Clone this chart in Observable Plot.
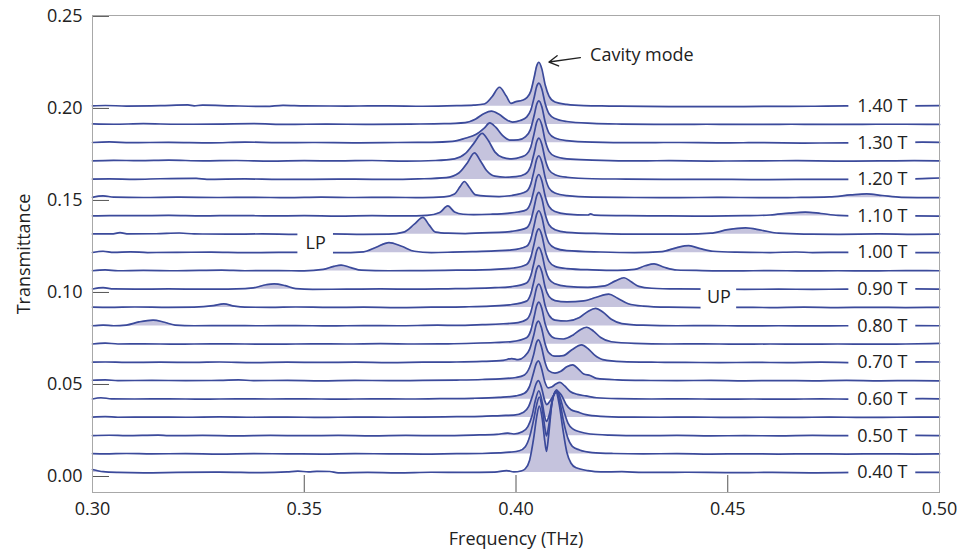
<!DOCTYPE html>
<html><head><meta charset="utf-8">
<script src="https://cdn.jsdelivr.net/npm/d3@7"></script>
<script src="https://cdn.jsdelivr.net/npm/@observablehq/plot@0.6"></script>
<style>body{margin:0;background:#fff}</style>
</head><body><div id="chart"></div>
<script>
// Magnetic fields (T) of each trace, bottom to top
const fields = ["0.40","0.45","0.50","0.55","0.60","0.65","0.70","0.75","0.80","0.85","0.90","0.95","1.00","1.05","1.10","1.15","1.20","1.25","1.30","1.35","1.40"];
// Vertical offset (baseline) of each trace
const offsets = [0.0022,0.0122,0.0221,0.0321,0.0420,0.0520,0.0619,0.0719,0.0818,0.0918,0.1017,0.1117,0.1216,0.1316,0.1415,0.1515,0.1614,0.1714,0.1813,0.1913,0.2012];
const xTicks = [0.30,0.35,0.40,0.45,0.50];
const yTicks = [0.00,0.05,0.10,0.15,0.20,0.25];
const labelFields = ["0.40 T","0.50 T","0.60 T","0.70 T","0.80 T","0.90 T","1.00 T","1.10 T","1.20 T","1.30 T","1.40 T"];
const labelIndex = [0,2,4,6,8,10,12,14,16,18,20];
const labelFreq = 0.4865;

// Each trace: [frequency (THz), transmittance above its baseline]
const t040 = [[0.300,0.0016],[0.3025,0.0004],[0.306,0],[0.312,-0.0002],[0.320,0],[0.330,0.0002],[0.340,-0.0001],[0.346,0.0003],[0.3485,0.0007],[0.351,0.0003],[0.353,0.0006],[0.356,0.0005],[0.358,-0.0002],[0.365,0],[0.372,-0.0002],[0.380,0.0001],[0.388,0],[0.395,0.0002],[0.3978,0.0010],[0.3995,0.0003],[0.4012,0.0008],[0.4022,0.0020],[0.4032,0.0065],[0.4042,0.0190],[0.4049,0.0305],[0.4055,0.0360],[0.4062,0.0290],[0.4068,0.0170],[0.4072,0.0115],[0.4077,0.0200],[0.4085,0.0380],[0.4094,0.0440],[0.4102,0.0370],[0.4111,0.0230],[0.4120,0.0110],[0.4130,0.0050],[0.4142,0.0025],[0.417,0.0010],[0.420,0.0003],[0.425,0.0004],[0.430,0],[0.440,0.0001],[0.450,-0.0001],[0.460,0],[0.470,-0.0002],[0.480,0],[0.490,0.0001],[0.500,0]];
const t045 = [[0.300,0.0002],[0.303,0.0001],[0.308,0.0003],[0.314,0.0001],[0.322,0.0002],[0.330,0],[0.338,0.0002],[0.346,0.0001],[0.354,0],[0.362,0.0002],[0.370,0.0001],[0.378,0],[0.386,0.0002],[0.392,0.0003],[0.3960,0.0006],[0.3985,0.0010],[0.4008,0.0018],[0.4022,0.0040],[0.4033,0.0100],[0.4042,0.0190],[0.4049,0.0270],[0.4055,0.0310],[0.4062,0.0245],[0.4068,0.0145],[0.4072,0.0098],[0.4077,0.0150],[0.4086,0.0290],[0.4095,0.0340],[0.4103,0.0290],[0.4112,0.0180],[0.4122,0.0090],[0.4133,0.0042],[0.4150,0.0022],[0.418,0.0008],[0.423,0.0003],[0.430,0.0001],[0.438,0.0002],[0.446,0],[0.454,0.0001],[0.462,0],[0.470,0.0001],[0.478,0],[0.486,0.0001],[0.494,0],[0.500,0.0001]];
const t050 = [[0.300,0.0001],[0.304,0.0003],[0.308,0.0001],[0.3155,0.0004],[0.318,0.0001],[0.326,0.0002],[0.334,0],[0.342,0.0002],[0.350,0.0001],[0.358,0.0002],[0.366,0],[0.374,0.0002],[0.382,0.0001],[0.390,0.0004],[0.3955,0.0008],[0.3980,0.0015],[0.3995,0.0010],[0.4015,0.0022],[0.4028,0.0050],[0.4038,0.0110],[0.4046,0.0195],[0.4054,0.0245],[0.4062,0.0180],[0.4068,0.0102],[0.4072,0.0078],[0.4078,0.0110],[0.4088,0.0215],[0.4096,0.0250],[0.4104,0.0210],[0.4113,0.0135],[0.4123,0.0068],[0.4135,0.0036],[0.4150,0.0022],[0.4175,0.0010],[0.422,0.0004],[0.430,0.0001],[0.438,0.0002],[0.446,0],[0.454,0.0001],[0.462,0],[0.470,0.0002],[0.478,0.0001],[0.486,0],[0.494,0.0002],[0.500,0.0001]];
const t055 = [[0.300,0.0002],[0.303,0.0004],[0.306,0.0001],[0.314,0.0002],[0.322,0.0001],[0.330,0.0003],[0.338,0.0001],[0.346,0.0002],[0.354,0],[0.362,0.0002],[0.370,0.0001],[0.378,0.0002],[0.386,0.0004],[0.392,0.0006],[0.3965,0.0010],[0.3995,0.0012],[0.4018,0.0028],[0.4030,0.0060],[0.4040,0.0125],[0.4047,0.0180],[0.4053,0.0200],[0.4061,0.0155],[0.4068,0.0090],[0.4073,0.0070],[0.4080,0.0088],[0.4090,0.0125],[0.4098,0.0142],[0.4107,0.0122],[0.4118,0.0072],[0.4130,0.0042],[0.4145,0.0030],[0.4165,0.0015],[0.420,0.0006],[0.426,0.0002],[0.434,0.0001],[0.442,0.0002],[0.450,0],[0.458,0.0001],[0.466,0],[0.474,0.0002],[0.482,0],[0.490,0.0001],[0.500,0.0002]];
const t060 = [[0.300,0.0001],[0.302,0.0008],[0.3045,0.0002],[0.310,0.0001],[0.318,0.0002],[0.326,0],[0.334,0.0002],[0.342,0.0001],[0.350,0.0002],[0.358,0],[0.366,0.0002],[0.374,0.0001],[0.382,0.0003],[0.390,0.0005],[0.3960,0.0010],[0.4000,0.0018],[0.4020,0.0032],[0.4032,0.0070],[0.4041,0.0140],[0.4048,0.0195],[0.4053,0.0208],[0.4060,0.0170],[0.4068,0.0095],[0.4076,0.0062],[0.4084,0.0066],[0.4094,0.0082],[0.4104,0.0091],[0.4115,0.0072],[0.4128,0.0042],[0.4145,0.0026],[0.4165,0.0018],[0.4190,0.0008],[0.424,0.0003],[0.432,0.0001],[0.440,0.0002],[0.448,0],[0.456,0.0001],[0.464,0],[0.472,0.0002],[0.480,0],[0.488,0.0001],[0.496,0.0003],[0.500,0.0002]];
const t065 = [[0.300,0.0003],[0.303,0.0005],[0.306,0.0001],[0.314,0.0002],[0.322,0.0001],[0.330,0.0002],[0.3345,0.0005],[0.338,0.0001],[0.346,0.0002],[0.354,0],[0.362,0.0002],[0.370,0.0001],[0.378,0.0002],[0.386,0.0004],[0.392,0.0007],[0.3970,0.0012],[0.4000,0.0018],[0.4020,0.0032],[0.4032,0.0072],[0.4042,0.0145],[0.4048,0.0205],[0.4053,0.0222],[0.4060,0.0185],[0.4068,0.0105],[0.4077,0.0055],[0.4092,0.0042],[0.4106,0.0052],[0.4120,0.0076],[0.4134,0.0087],[0.4148,0.0062],[0.4160,0.0037],[0.4175,0.0029],[0.4190,0.0013],[0.424,0.0005],[0.430,0.0002],[0.438,0.0001],[0.446,0.0002],[0.454,0],[0.462,0.0001],[0.470,0],[0.478,0.0002],[0.486,0],[0.494,0.0001],[0.500,0]];
const t070 = [[0.300,0.0002],[0.303,0.0003],[0.308,0.0001],[0.316,0.0002],[0.324,0.0001],[0.330,0.0003],[0.338,0],[0.346,0.0002],[0.354,0.0001],[0.362,0.0002],[0.370,0],[0.378,0.0002],[0.386,0.0003],[0.392,0.0006],[0.3970,0.0012],[0.3990,0.0022],[0.4005,0.0016],[0.4020,0.0033],[0.4032,0.0072],[0.4042,0.0150],[0.4048,0.0208],[0.4053,0.0225],[0.4060,0.0190],[0.4068,0.0108],[0.4077,0.0055],[0.4092,0.0035],[0.4112,0.0038],[0.4132,0.0070],[0.4155,0.0096],[0.4170,0.0076],[0.4185,0.0042],[0.4205,0.0016],[0.425,0.0005],[0.432,0.0002],[0.440,0.0001],[0.448,0],[0.456,0.0001],[0.464,0],[0.472,0.0002],[0.480,0],[0.488,0.0001],[0.496,0.0004],[0.500,0.0003]];
const t075 = [[0.300,0.0001],[0.303,0.0006],[0.306,0.0001],[0.312,0.0002],[0.320,0],[0.328,0.0002],[0.336,0.0001],[0.344,0],[0.352,0.0002],[0.360,0.0001],[0.368,0.0003],[0.376,0.0001],[0.384,0.0002],[0.390,0.0005],[0.395,0.0009],[0.3990,0.0014],[0.4025,0.0035],[0.4035,0.0075],[0.4043,0.0150],[0.4049,0.0210],[0.4054,0.0228],[0.4061,0.0194],[0.4069,0.0109],[0.4078,0.0058],[0.4092,0.0032],[0.4112,0.0028],[0.4135,0.0050],[0.4152,0.0079],[0.4167,0.0092],[0.4183,0.0071],[0.4200,0.0036],[0.4225,0.0013],[0.428,0.0004],[0.436,0.0001],[0.444,0.0002],[0.452,0],[0.460,0.0001],[0.468,0],[0.476,0.0001],[0.484,0],[0.492,0.0001],[0.500,0.0004]];
const t080 = [[0.300,0.0001],[0.3025,0.0005],[0.305,0.0001],[0.3080,0.0005],[0.3110,0.0022],[0.3143,0.0032],[0.3170,0.0020],[0.3195,0.0005],[0.324,0.0001],[0.332,0.0002],[0.340,0.0001],[0.348,0.0002],[0.356,0],[0.364,0.0002],[0.372,0.0001],[0.3815,0.0004],[0.386,0.0003],[0.392,0.0007],[0.397,0.0012],[0.4005,0.0018],[0.4025,0.0035],[0.4035,0.0075],[0.4043,0.0150],[0.4049,0.0210],[0.4054,0.0228],[0.4061,0.0194],[0.4069,0.0109],[0.4078,0.0058],[0.4092,0.0032],[0.4120,0.0027],[0.4150,0.0046],[0.4170,0.0079],[0.4188,0.0095],[0.4205,0.0076],[0.4225,0.0036],[0.4250,0.0013],[0.430,0.0004],[0.438,0.0001],[0.446,0.0002],[0.454,0],[0.462,0.0001],[0.470,0],[0.478,0.0001],[0.486,0],[0.494,0.0002],[0.500,0.0001]];
const t085 = [[0.300,0.0002],[0.304,0.0001],[0.310,0.0003],[0.318,0.0001],[0.324,0.0002],[0.3285,0.0010],[0.3310,0.0020],[0.3335,0.0008],[0.3360,0.0002],[0.342,0.0001],[0.348,0.0003],[0.356,0.0001],[0.364,0.0002],[0.372,0],[0.380,0.0002],[0.388,0.0004],[0.394,0.0008],[0.3985,0.0015],[0.4025,0.0035],[0.4035,0.0075],[0.4043,0.0150],[0.4049,0.0210],[0.4054,0.0228],[0.4061,0.0194],[0.4069,0.0109],[0.4078,0.0060],[0.4092,0.0038],[0.4120,0.0031],[0.4160,0.0036],[0.4190,0.0056],[0.4219,0.0073],[0.4240,0.0051],[0.4265,0.0021],[0.4300,0.0008],[0.436,0.0002],[0.444,0],[0.452,0.0001],[0.460,0],[0.468,0.0002],[0.476,0],[0.484,0.0001],[0.492,0],[0.500,0.0001]];
const t090 = [[0.300,0.0002],[0.3025,0.0009],[0.305,0.0002],[0.310,0.0001],[0.318,0.0002],[0.326,0.0001],[0.334,0.0002],[0.3380,0.0008],[0.3410,0.0025],[0.3429,0.0030],[0.3455,0.0020],[0.3480,0.0004],[0.352,0],[0.360,0.0001],[0.368,0.0002],[0.376,0.0001],[0.384,0.0003],[0.390,0.0005],[0.395,0.0009],[0.3990,0.0015],[0.4025,0.0035],[0.4035,0.0075],[0.4043,0.0150],[0.4049,0.0210],[0.4054,0.0228],[0.4061,0.0194],[0.4069,0.0110],[0.4078,0.0056],[0.4092,0.0030],[0.4120,0.0016],[0.4170,0.0011],[0.4210,0.0019],[0.4235,0.0046],[0.4255,0.0063],[0.4272,0.0041],[0.4290,0.0016],[0.4320,0.0006],[0.438,0.0002],[0.446,0.0001],[0.454,0],[0.462,0.0001],[0.470,0],[0.478,0.0001],[0.486,0],[0.494,0.0002],[0.500,0.0001]];
const t095 = [[0.300,0.0001],[0.303,0.0006],[0.306,0.0001],[0.312,0.0003],[0.320,0.0001],[0.3305,0.0004],[0.336,0.0001],[0.344,0.0002],[0.350,0],[0.3545,0.0008],[0.3570,0.0025],[0.3587,0.0032],[0.3610,0.0018],[0.3635,0.0004],[0.370,0.0001],[0.378,0.0002],[0.386,0.0004],[0.392,0.0006],[0.396,0.0010],[0.3995,0.0016],[0.4025,0.0035],[0.4035,0.0075],[0.4043,0.0150],[0.4049,0.0210],[0.4054,0.0228],[0.4061,0.0194],[0.4069,0.0109],[0.4078,0.0052],[0.4092,0.0025],[0.412,0.0013],[0.418,0.0006],[0.424,0.0003],[0.4280,0.0008],[0.4305,0.0028],[0.4326,0.0038],[0.4350,0.0020],[0.4380,0.0005],[0.444,0.0002],[0.452,0],[0.460,0.0002],[0.468,0],[0.476,0.0001],[0.484,0],[0.492,0.0002],[0.500,0.0001]];
const t100 = [[0.300,0.0001],[0.3025,0.0008],[0.305,0.0002],[0.309,0.0005],[0.313,0.0001],[0.320,0.0002],[0.328,0.0003],[0.336,0],[0.344,0.0002],[0.352,0.0001],[0.358,0],[0.3640,0.0005],[0.3670,0.0030],[0.3700,0.0055],[0.3730,0.0035],[0.3760,0.0008],[0.3800,0.0001],[0.3850,0.0003],[0.3900,0.0006],[0.3950,0.0010],[0.3990,0.0015],[0.4025,0.0035],[0.4035,0.0075],[0.4043,0.0150],[0.4049,0.0210],[0.4054,0.0228],[0.4061,0.0194],[0.4069,0.0109],[0.4078,0.0052],[0.4092,0.0025],[0.412,0.0011],[0.420,0.0004],[0.428,0.0001],[0.4345,0.0006],[0.4380,0.0028],[0.4408,0.0038],[0.4435,0.0022],[0.4465,0.0008],[0.452,0.0003],[0.460,0.0001],[0.466,0.0004],[0.470,0.0001],[0.478,0.0002],[0.486,0],[0.494,0.0001],[0.500,0]];
const t105 = [[0.300,0.0002],[0.3045,0.0002],[0.3065,0.0009],[0.3085,0.0002],[0.315,0.0003],[0.3205,0.0007],[0.324,0.0002],[0.332,0.0001],[0.340,0.0002],[0.348,0],[0.356,0.0002],[0.364,0],[0.370,0.0001],[0.3735,0.0012],[0.3760,0.0055],[0.3780,0.0092],[0.3795,0.0050],[0.3810,0.0012],[0.3840,0.0006],[0.3880,0.0004],[0.3920,0.0008],[0.3960,0.0010],[0.3990,0.0016],[0.4025,0.0035],[0.4035,0.0075],[0.4043,0.0150],[0.4049,0.0210],[0.4054,0.0228],[0.4061,0.0194],[0.4069,0.0109],[0.4078,0.0052],[0.4092,0.0025],[0.412,0.0011],[0.420,0.0004],[0.430,0.0001],[0.440,0.0001],[0.446,0.0006],[0.4500,0.0025],[0.4542,0.0035],[0.4580,0.0022],[0.4620,0.0006],[0.468,0.0001],[0.476,0],[0.486,0.0002],[0.494,0],[0.500,0.0001]];
const t110 = [[0.300,0.0001],[0.304,0.0003],[0.310,0.0002],[0.318,0.0004],[0.326,0.0001],[0.334,0.0003],[0.342,0.0001],[0.350,0.0002],[0.358,0],[0.366,0.0002],[0.374,0.0001],[0.379,0.0004],[0.3820,0.0020],[0.3839,0.0055],[0.3855,0.0022],[0.3875,0.0010],[0.3900,0.0008],[0.3940,0.0010],[0.3980,0.0015],[0.4005,0.0022],[0.4025,0.0035],[0.4035,0.0075],[0.4043,0.0148],[0.4049,0.0208],[0.4054,0.0226],[0.4061,0.0192],[0.4069,0.0108],[0.4078,0.0052],[0.4092,0.0025],[0.412,0.0011],[0.4170,0.0006],[0.4176,0.0012],[0.4185,0.0005],[0.426,0.0002],[0.436,0.0001],[0.446,0],[0.454,0.0002],[0.460,0.0006],[0.4645,0.0016],[0.4683,0.0022],[0.472,0.0014],[0.476,0.0004],[0.482,0],[0.490,0.0001],[0.500,0]];
const t115 = [[0.300,0.0002],[0.3025,0.0010],[0.305,0.0003],[0.312,0.0001],[0.320,0.0003],[0.330,0.0001],[0.338,0.0002],[0.346,0],[0.354,0.0003],[0.362,0.0001],[0.370,0.0002],[0.378,0],[0.3830,0.0004],[0.3855,0.0020],[0.3868,0.0060],[0.3878,0.0088],[0.3890,0.0055],[0.3905,0.0015],[0.3930,0.0008],[0.3960,0.0006],[0.3990,0.0012],[0.4025,0.0035],[0.4035,0.0075],[0.4043,0.0150],[0.4049,0.0210],[0.4054,0.0228],[0.4061,0.0194],[0.4069,0.0109],[0.4078,0.0052],[0.4092,0.0025],[0.412,0.0011],[0.418,0.0003],[0.428,0.0001],[0.438,0],[0.448,0.0002],[0.458,0],[0.466,0.0001],[0.474,0.0004],[0.4790,0.0015],[0.4828,0.0021],[0.4865,0.0012],[0.491,0.0002],[0.500,0]];
const t120 = [[0.300,0.0002],[0.304,0.0003],[0.310,0.0001],[0.316,0.0004],[0.3245,0.0006],[0.327,0.0001],[0.336,0.0003],[0.344,0],[0.352,0.0001],[0.362,0.0002],[0.370,0],[0.377,0.0003],[0.3835,0.0010],[0.3865,0.0035],[0.3885,0.0090],[0.3902,0.0145],[0.3915,0.0105],[0.3930,0.0050],[0.3950,0.0018],[0.3975,0.0012],[0.4000,0.0015],[0.4022,0.0030],[0.4034,0.0068],[0.4043,0.0145],[0.4049,0.0206],[0.4054,0.0225],[0.4061,0.0192],[0.4069,0.0108],[0.4078,0.0052],[0.4092,0.0026],[0.412,0.0012],[0.418,0.0004],[0.426,0.0002],[0.436,0],[0.446,0.0001],[0.456,-0.0001],[0.466,0],[0.474,0.0001],[0.482,0],[0.490,0.0001],[0.496,0.0005],[0.500,0.0008]];
const t125 = [[0.300,0.0001],[0.305,0.0004],[0.311,0.0002],[0.318,0.0005],[0.326,0.0001],[0.334,0.0003],[0.342,0],[0.350,0.0002],[0.358,0.0001],[0.366,0.0003],[0.374,0],[0.381,0.0003],[0.3855,0.0012],[0.3880,0.0040],[0.3900,0.0095],[0.3920,0.0150],[0.3935,0.0110],[0.3950,0.0050],[0.3968,0.0020],[0.3990,0.0012],[0.4012,0.0022],[0.4025,0.0037],[0.4035,0.0077],[0.4043,0.0152],[0.4049,0.0212],[0.4054,0.0230],[0.4061,0.0196],[0.4069,0.0110],[0.4078,0.0053],[0.4092,0.0026],[0.412,0.0012],[0.418,0.0005],[0.426,0.0001],[0.436,0.0002],[0.446,0],[0.456,0.0001],[0.466,0.0002],[0.476,0],[0.486,0.0001],[0.494,0.0002],[0.500,0.0001]];
const t130 = [[0.300,0.0002],[0.304,0.0005],[0.309,0.0001],[0.318,0.0003],[0.328,0],[0.336,0.0004],[0.344,0.0001],[0.352,0.0002],[0.362,0],[0.372,0.0002],[0.380,0.0003],[0.385,0.0008],[0.388,0.0025],[0.3905,0.0045],[0.3925,0.0080],[0.3938,0.0108],[0.3952,0.0085],[0.3968,0.0040],[0.3985,0.0015],[0.4005,0.0016],[0.4022,0.0033],[0.4034,0.0072],[0.4043,0.0150],[0.4049,0.0210],[0.4054,0.0228],[0.4061,0.0196],[0.4069,0.0112],[0.4078,0.0053],[0.4092,0.0026],[0.412,0.0012],[0.418,0.0004],[0.428,0.0001],[0.438,0.0002],[0.448,0],[0.458,0.0001],[0.468,-0.0001],[0.478,0],[0.488,0.0001],[0.496,0.0004],[0.500,0.0003]];
const t135 = [[0.300,0.0003],[0.305,0.0001],[0.312,0.0004],[0.320,0.0001],[0.330,0.0002],[0.338,0.0004],[0.346,0],[0.355,0.0002],[0.365,0],[0.375,0.0002],[0.383,0.0004],[0.388,0.0010],[0.3905,0.0030],[0.3925,0.0060],[0.3942,0.0072],[0.3960,0.0055],[0.3978,0.0025],[0.3992,0.0013],[0.4010,0.0021],[0.4025,0.0040],[0.4035,0.0078],[0.4043,0.0148],[0.4049,0.0208],[0.4054,0.0225],[0.4061,0.0193],[0.4069,0.0112],[0.4078,0.0058],[0.4092,0.0032],[0.412,0.0016],[0.418,0.0006],[0.425,0.0002],[0.435,0],[0.445,0.0001],[0.455,0],[0.465,0.0001],[0.475,0],[0.485,0.0001],[0.492,0.0001],[0.500,0]];
const t140 = [[0.300,0.0002],[0.303,0.0004],[0.308,0.0001],[0.316,0.0003],[0.3225,0.0007],[0.324,0.0002],[0.326,0.0006],[0.333,0.0002],[0.341,-0.0001],[0.345,0.0005],[0.350,0.0002],[0.360,0.0001],[0.370,0.0002],[0.378,0],[0.386,0.0003],[0.390,0.0006],[0.3925,0.0012],[0.3943,0.0050],[0.3961,0.0103],[0.3977,0.0055],[0.3988,0.0016],[0.4000,0.0025],[0.4015,0.0032],[0.4025,0.0045],[0.4035,0.0082],[0.4043,0.0158],[0.4049,0.0220],[0.4054,0.0239],[0.4061,0.0203],[0.4069,0.0115],[0.4078,0.0055],[0.4092,0.0023],[0.412,0.0010],[0.416,0.0003],[0.422,0.0001],[0.430,-0.0001],[0.440,-0.0002],[0.450,-0.0002],[0.460,-0.0001],[0.470,0],[0.478,0.0002],[0.486,0],[0.492,0.0002],[0.500,0.0003]];

const traces = [t040,t045,t050,t055,t060,t065,t070,t075,t080,t085,t090,t095,t100,t105,t110,t115,t120,t125,t130,t135,t140];

const rows = traces.flatMap((pts, i) => pts.map(([f, v]) => ({field: fields[i], f, base: offsets[i], y: offsets[i] + v})));
const labels = labelFields.map((text, k) => ({text, f: labelFreq, y: offsets[labelIndex[k]]}));
const polaritons = [{text: "LP", f: 0.3527, y: 0.1266}, {text: "UP", f: 0.4479, y: 0.0973}];
const cavityNote = [{text: "Cavity mode", f: 0.4175, y: 0.2288}];
const cavityArrow = [{x1: 0.4152, y1: 0.2276, x2: 0.4078, y2: 0.2252}];

const lineColor = "#3b4a9b";
const fillColor = "#c5c3dd";

const chart = Plot.plot({
  width: 961, height: 550,
  marginTop: 15, marginBottom: 58, marginLeft: 92, marginRight: 22,
  style: {fontFamily: "'Open Sans', sans-serif", fontSize: "18px", color: "#222", background: "white"},
  x: {domain: [0.30, 0.50]},
  y: {domain: [-0.0087, 0.2505]},
  marks: [
    Plot.tickX(xTicks, {x: d => d, stroke: "#555", insetTop: 460}),
    Plot.tickY(yTicks, {y: d => d, stroke: "#555", insetRight: 830}),
    Plot.areaY(rows, {x: "f", y1: "base", y2: "y", z: "field", fill: fillColor, curve: "monotone-x"}),
    Plot.line(rows, {x: "f", y: "y", z: "field", stroke: lineColor, strokeWidth: 1.7, curve: "monotone-x"}),
    Plot.frame({stroke: "#a8a8a8"}),
    Plot.axisX({ticks: xTicks, tickSize: 0, tickPadding: 10, tickFormat: d3.format(".2f"), label: "Frequency (THz)", labelAnchor: "center", labelOffset: 52, labelArrow: "none"}),
    Plot.axisY({ticks: yTicks, tickSize: 0, tickPadding: 10, tickFormat: d3.format(".2f"), label: "Transmittance", labelAnchor: "center", labelOffset: 75, labelArrow: "none"}),
    // white gaps in the traces behind the labels
    Plot.rect(labels, {x1: d => d.f - 0.0079, x2: d => d.f + 0.0079, y1: d => d.y - 0.0038, y2: d => d.y + 0.0038, fill: "white"}),
    Plot.rect(polaritons, {x1: d => d.f - 0.0042, x2: d => d.f + 0.0042, y1: d => d.y - 0.0085, y2: d => d.y + 0.0085, fill: "white"}),
    Plot.text(labels, {x: "f", y: "y", text: "text", fill: "#222", fontSize: 18}),
    Plot.text(polaritons, {x: "f", y: "y", text: "text", fill: "#222", fontSize: 18}),
    Plot.text(cavityNote, {x: "f", y: "y", text: "text", textAnchor: "start", fill: "#222", fontSize: 18}),
    Plot.arrow(cavityArrow, {x1: "x1", y1: "y1", x2: "x2", y2: "y2", stroke: "#222", strokeWidth: 1.4, headLength: 11})
  ]
});
document.getElementById("chart").appendChild(chart);
</script>
</body></html>
